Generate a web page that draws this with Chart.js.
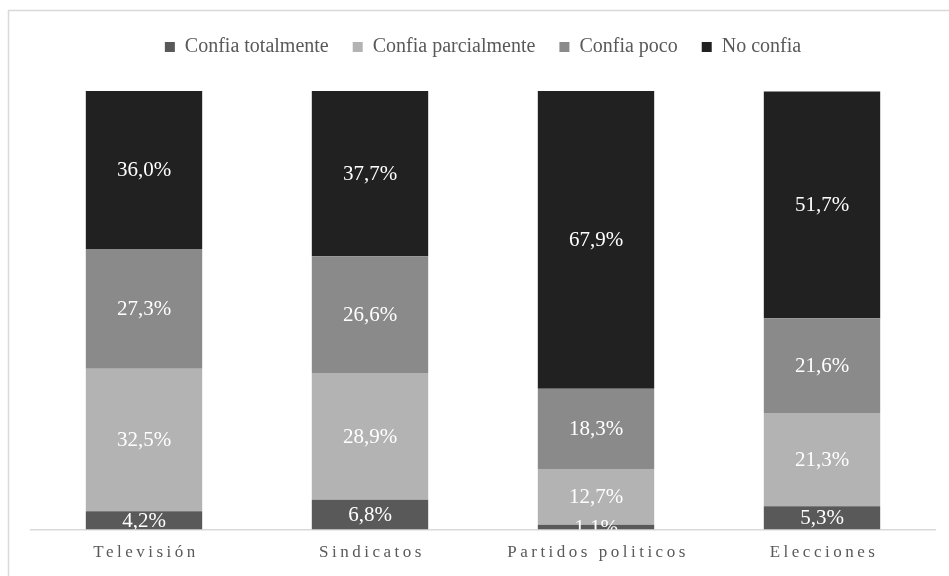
<!DOCTYPE html>
<html>
<head>
<meta charset="utf-8">
<script src="https://cdn.jsdelivr.net/npm/chart.js@4"></script>
<style>
  html, body { margin: 0; padding: 0; background: #fff; }
  #wrap { width: 949px; height: 576px; }
</style>
</head>
<body>
<div id="wrap"><canvas id="myChart" width="949" height="576"></canvas></div>
<script>
const categories = ["Televisión", "Sindicatos", "Partidos politicos", "Elecciones"];
const totalmente = [4.2, 6.8, 1.1, 5.3];
const parcialmente = [32.5, 28.9, 12.7, 21.3];
const poco = [27.3, 26.6, 18.3, 21.6];
const noConfia = [36.0, 37.7, 67.9, 51.7];

const serif = "'Liberation Serif', 'Times New Roman', serif";

// frame round the chart, like the exported picture
const framePlugin = {
  id: "frame",
  beforeDraw(chart) {
    const ctx = chart.ctx;
    ctx.save();
    ctx.strokeStyle = "#d9d9d9";
    ctx.lineWidth = 1.5;
    ctx.strokeRect(8.5, 10.5, 1000, 700);
    ctx.restore();
  }
};

// some room between legend and bars
const legendMargin = {
  id: "legendMargin",
  beforeInit(chart) {
    const fit = chart.legend.fit;
    chart.legend.fit = function () {
      fit.bind(chart.legend)();
      this.height += 24;
    };
  }
};

// category names with wide letter spacing (ticks themselves are transparent)
const spacedTicks = {
  id: "spacedTicks",
  afterDraw(chart) {
    const ctx = chart.ctx;
    const xs = chart.scales.x;
    ctx.save();
    ctx.letterSpacing = "3.5px";
    ctx.fillStyle = "#595959";
    ctx.font = "17px " + serif;
    ctx.textAlign = "center";
    ctx.textBaseline = "middle";
    chart.data.labels.forEach((lab, i) => {
      ctx.fillText(lab, xs.getPixelForTick(i) + 2, xs.top + 23);
    });
    ctx.restore();
  }
};

// white value labels in the middle of each segment
const valueLabels = {
  id: "valueLabels",
  afterDatasetsDraw(chart) {
    const ctx = chart.ctx;
    const area = chart.chartArea;
    ctx.save();
    ctx.beginPath();
    ctx.rect(area.left, area.top, area.right - area.left, area.bottom - area.top);
    ctx.clip();
    ctx.fillStyle = "#ffffff";
    ctx.font = "21px " + serif;
    ctx.textAlign = "center";
    ctx.textBaseline = "middle";
    chart.data.datasets.forEach((ds, i) => {
      chart.getDatasetMeta(i).data.forEach((bar, j) => {
        const v = ds.data[j];
        const y = (bar.y + bar.base) / 2;
        ctx.fillText(v.toFixed(1).replace(".", ",") + "%", bar.x, y + 1);
      });
    });
    ctx.restore();
  }
};

new Chart(document.getElementById("myChart"), {
  type: "bar",
  data: {
    labels: categories,
    datasets: [
      { label: "Confia totalmente", data: totalmente, backgroundColor: "#595959" },
      { label: "Confia parcialmente", data: parcialmente, backgroundColor: "#b3b3b3" },
      { label: "Confia poco", data: poco, backgroundColor: "#8a8a8a" },
      { label: "No confia", data: noConfia, backgroundColor: "#212121" }
    ]
  },
  options: {
    responsive: false,
    animation: false,
    layout: { padding: { left: 31, right: 14, top: 13, bottom: 2 } },
    datasets: { bar: { barPercentage: 0.515, categoryPercentage: 1, borderWidth: 0 } },
    scales: {
      x: {
        stacked: true,
        grid: { display: false },
        border: { display: true, color: "#d9d9d9", width: 1.5 },
        ticks: { color: "rgba(0,0,0,0)", font: { family: serif, size: 17 }, padding: 8 }
      },
      y: {
        stacked: true,
        display: false,
        min: 0,
        max: 100
      }
    },
    plugins: {
      legend: {
        position: "top",
        labels: {
          color: "#595959",
          font: { family: serif, size: 20 },
          boxWidth: 10,
          boxHeight: 10,
          padding: 24
        }
      },
      tooltip: { enabled: false }
    }
  },
  plugins: [framePlugin, legendMargin, spacedTicks, valueLabels]
});
</script>
</body>
</html>
